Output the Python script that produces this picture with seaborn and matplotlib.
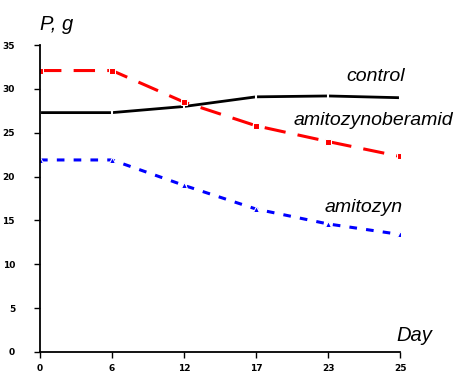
import matplotlib
matplotlib.use("Agg")
import matplotlib.pyplot as plt
import seaborn as sns
import pandas as pd

days = ["0", "6", "12", "17", "23", "25"]
control = [27.3, 27.3, 28.0, 29.1, 29.2, 29.0]
amitozynoberamid = [32.1, 32.1, 28.5, 25.8, 24.0, 22.3]
amitozyn = [21.9, 21.9, 19.0, 16.3, 14.6, 13.4]

pos = list(range(len(days)))
df = pd.DataFrame({"pos": pos, "control": control,
                   "amitozynoberamid": amitozynoberamid, "amitozyn": amitozyn})

sns.set_style("white")
plt.rcParams['font.family'] = ['Liberation Sans', 'DejaVu Sans']
plt.rcParams['text.color'] = 'black'
plt.rcParams['xtick.color'] = 'black'
plt.rcParams['ytick.color'] = 'black'

fig = plt.figure(figsize=(4.67, 3.76), dpi=100)
ax = fig.add_axes([0.0857, 0.064, 0.771, 0.816])

sns.lineplot(data=df, x="pos", y="control", ax=ax, color="black", lw=2,
             marker="|", markersize=5, markeredgewidth=1.5)
sns.lineplot(data=df, x="pos", y="amitozynoberamid", ax=ax, color="red", lw=2.2,
             marker="s", markersize=5, linestyle=(0, (7, 4)))
sns.lineplot(data=df, x="pos", y="amitozyn", ax=ax, color="blue", lw=2.2,
             marker="^", markersize=4, linestyle=(0, (2.5, 3)))

ax.set_xlim(0, 5)
ax.set_ylim(0, 35)
ax.set_xticks(pos)
ax.set_xticklabels(days)
ax.set_yticks(range(0, 36, 5))
ax.tick_params(axis="both", direction="out", length=4, width=1, labelsize=6.5,
               bottom=True, left=True)
ax.tick_params(axis="y", pad=14)
ax.tick_params(axis="x", pad=5)
for lab in ax.get_xticklabels() + ax.get_yticklabels():
    lab.set_fontweight("bold")
    lab.set_fontfamily("DejaVu Sans Condensed")
ax.set_xlabel("")
ax.set_ylabel("")
for s in ["top", "right"]:
    ax.spines[s].set_visible(False)
for s in ["left", "bottom"]:
    ax.spines[s].set_color("black")
    ax.spines[s].set_linewidth(1.3)

ax.text(5.07, 31.4, "control", style="italic", fontsize=14, ha="right", va="center")
ax.text(5.74, 26.4, "amitozynoberamid", style="italic", fontsize=14, ha="right", va="center",
        clip_on=False)
ax.text(5.04, 16.5, "amitozyn", style="italic", fontsize=14, ha="right", va="center")
fig.text(0.085, 0.935, "P, g", style="italic", fontsize=14.5, ha="left", va="center")
ax.text(5.45, 1.9, "Day", style="italic", fontsize=14.5, ha="right", va="center", clip_on=False)

fig.savefig("out.png", dpi=100)
